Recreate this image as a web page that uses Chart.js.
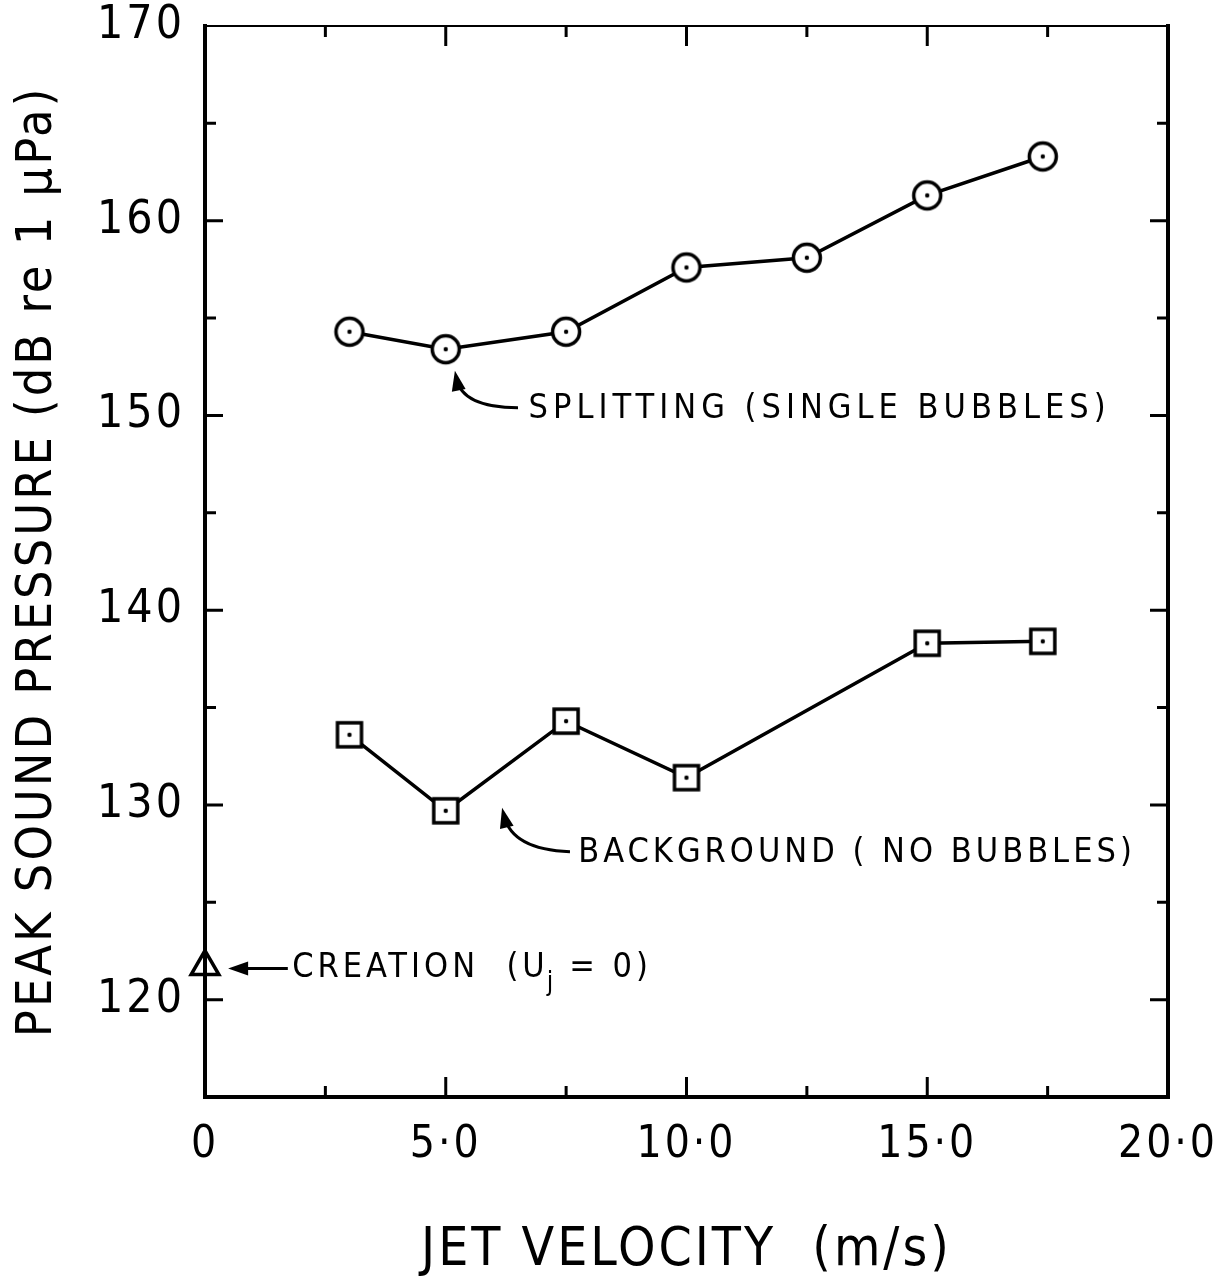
<!DOCTYPE html>
<html>
<head>
<meta charset="utf-8">
<script src="https://cdn.jsdelivr.net/npm/chart.js@4.4.0/dist/chart.umd.min.js"></script>
<style>
  html, body { margin: 0; padding: 0; background: #fff; }
  #wrap { width: 1231px; height: 1286px; }
</style>
</head>
<body>
<div id="wrap"><canvas id="chart"></canvas></div>
<script>
// values
const splitX = [3.0, 5.0, 7.5, 10.0, 12.5, 15.0, 17.4];
const splitY = [154.3, 153.4, 154.3, 157.6, 158.1, 161.3, 163.3];
const backX = [3.0, 5.0, 7.5, 10.0, 15.0, 17.4];
const backY = [133.6, 129.7, 134.3, 131.4, 138.3, 138.4];
const creationX = [0];
const creationY = [121.7];

const xTicks = [0, 5, 10, 15, 20];
const xMinor = [2.5, 7.5, 12.5, 17.5];
const yTicks = [120, 130, 140, 150, 160, 170];
const yMinor = [125, 135, 145, 155, 165];

const FONT = "'DejaVu Sans Condensed', 'DejaVu Sans', sans-serif";

// annotation anchors, in data units
const notes = [
  { text: 'SPLITTING (SINGLE BUBBLES)', x: 6.72, y: 150.3, spacing: 5 },
  { text: 'BACKGROUND ( NO BUBBLES)', x: 7.75, y: 127.5, spacing: 4 },
];
const arrows = [
  { from: [6.50, 150.4], ctrl: [5.34, 150.4], to: [5.19, 152.3] },
  { from: [7.58, 127.6], ctrl: [6.38, 127.7], to: [6.17, 129.85] },
  { from: [1.72, 121.6], ctrl: [1.1, 121.6], to: [0.48, 121.6] },
];

function marker(kind) {
  const c = document.createElement('canvas');
  c.width = 36; c.height = 36;
  const g = c.getContext('2d');
  g.lineWidth = 3.5;
  g.strokeStyle = '#000';
  g.fillStyle = '#fff';
  if (kind === 'circle') {
    g.beginPath();
    g.arc(18, 18, 13.5, 0, Math.PI * 2);
    g.fill();
    g.stroke();
  } else {
    g.fillRect(6, 6, 24, 24);
    g.strokeRect(6, 6, 24, 24);
  }
  g.fillStyle = '#000';
  g.beginPath();
  g.arc(18, 18, 2.2, 0, Math.PI * 2);
  g.fill();
  return c;
}

const toPts = (xs, ys) => xs.map((x, i) => ({ x: x, y: ys[i] }));

const frame = {
  id: 'frame',
  beforeDraw(chart) {
    chart.ctx.letterSpacing = '3px';
  },
  afterDatasetsDraw(chart) {
    const { ctx, chartArea: a, scales: { x, y } } = chart;
    ctx.save();
    ctx.strokeStyle = '#000';
    ctx.lineCap = 'square';
    ctx.lineWidth = 4;
    ctx.beginPath();
    ctx.moveTo(a.left, a.top);
    ctx.lineTo(a.left, a.bottom);
    ctx.lineTo(a.right, a.bottom);
    ctx.lineTo(a.right, a.top);
    ctx.stroke();
    ctx.lineWidth = 2;
    ctx.beginPath();
    ctx.moveTo(a.left, a.top);
    ctx.lineTo(a.right, a.top);
    ctx.stroke();

    ctx.lineWidth = 3;
    ctx.lineCap = 'butt';
    const tx = (v, len) => {
      const p = x.getPixelForValue(v);
      ctx.moveTo(p, a.bottom); ctx.lineTo(p, a.bottom - len);
      ctx.moveTo(p, a.top); ctx.lineTo(p, a.top + len);
    };
    const ty = (v, len) => {
      const p = y.getPixelForValue(v);
      ctx.moveTo(a.left, p); ctx.lineTo(a.left + len, p);
      ctx.moveTo(a.right, p); ctx.lineTo(a.right - len, p);
    };
    ctx.beginPath();
    xTicks.slice(1, -1).forEach(v => tx(v, 20));
    xMinor.forEach(v => tx(v, 11));
    yTicks.slice(0, -1).forEach(v => ty(v, 18));
    yMinor.forEach(v => ty(v, 11));
    ctx.stroke();
    ctx.restore();
  },
  afterDraw(chart) {
    const { ctx, scales: { x, y } } = chart;
    const px = p => [x.getPixelForValue(p[0]), y.getPixelForValue(p[1])];
    ctx.save();
    ctx.fillStyle = '#000';
    ctx.strokeStyle = '#000';
    ctx.font = '34px ' + FONT;
    ctx.textBaseline = 'middle';
    ctx.textAlign = 'left';
    notes.forEach(n => {
      ctx.letterSpacing = n.spacing + 'px';
      ctx.fillText(n.text, x.getPixelForValue(n.x), y.getPixelForValue(n.y));
    });

    // CREATION (Uj = 0) with subscript j
    ctx.letterSpacing = '4px';
    let cx = x.getPixelForValue(1.81);
    const cy = y.getPixelForValue(121.6);
    const part = s => { ctx.fillText(s, cx, cy); cx += ctx.measureText(s).width; };
    part('CREATION  (U');
    ctx.font = '26px ' + FONT;
    ctx.fillText('j', cx - 2, cy + 15);
    cx += ctx.measureText('j').width + 10;
    ctx.font = '34px ' + FONT;
    part('= 0)');

    ctx.lineWidth = 3;
    arrows.forEach(ar => {
      const f = px(ar.from), c = px(ar.ctrl), t = px(ar.to);
      const ang = Math.atan2(t[1] - c[1], t[0] - c[0]);
      const L = 20, W = 7;
      ctx.beginPath();
      ctx.moveTo(f[0], f[1]);
      ctx.quadraticCurveTo(c[0], c[1], t[0] - Math.cos(ang) * 8, t[1] - Math.sin(ang) * 8);
      ctx.stroke();
      ctx.beginPath();
      ctx.moveTo(t[0], t[1]);
      ctx.lineTo(t[0] - Math.cos(ang) * L - Math.sin(ang) * W, t[1] - Math.sin(ang) * L + Math.cos(ang) * W);
      ctx.lineTo(t[0] - Math.cos(ang) * L + Math.sin(ang) * W, t[1] - Math.sin(ang) * L - Math.cos(ang) * W);
      ctx.closePath();
      ctx.fill();
    });
    ctx.restore();
  }
};

const ctx = document.getElementById('chart').getContext('2d');
new Chart(ctx, {
  type: 'scatter',
  data: {
    datasets: [{
        label: 'Splitting (single bubbles)',
        data: toPts(splitX, splitY),
        showLine: true,
        borderColor: '#000',
        borderWidth: 3.5,
        pointStyle: marker('circle'),
        pointRadius: 14,
      }, {
        label: 'Background (no bubbles)',
        data: toPts(backX, backY),
        showLine: true,
        borderColor: '#000',
        borderWidth: 3.5,
        pointStyle: marker('square'),
        pointRadius: 14,
      }, {
        label: 'Creation (Uj = 0)',
        data: toPts(creationX, creationY),
        showLine: false,
        clip: false,
        pointStyle: 'triangle',
        pointRadius: 16,
        borderColor: '#000',
        backgroundColor: 'rgba(0,0,0,0)',
        borderWidth: 3.5,
      }
    ]
  },
  options: {
    responsive: true,
    maintainAspectRatio: false,
    animation: false,
    layout: { padding: { left: 0, top: 26, right: 63, bottom: 0 } },
    plugins: {
      legend: { display: false },
      tooltip: { enabled: false },
    },
    scales: {
      x: {
        type: 'linear',
        min: 0,
        max: 20,
        grid: { display: false, drawTicks: false },
        border: { display: false },
        afterBuildTicks: s => { s.ticks = xTicks.map(v => ({ value: v })); },
        afterFit: s => {
          s.height = 189;
          s.paddingLeft = 0; s.paddingRight = 0;
        },
        ticks: {
          color: '#000',
          padding: 22,
          maxRotation: 0,
          font: { family: FONT, size: 44 },
          callback: v => v === 0 ? '0' : v.toFixed(1).replace('.', '·'),
        },
        title: {
          display: true,
          text: 'JET VELOCITY  (m/s)',
          color: '#000',
          font: { family: FONT, size: 53, lineHeight: 1.2 },
          padding: { top: 0, bottom: 3 },
        }
      },
      y: {
        type: 'linear',
        min: 115,
        max: 170,
        grid: { display: false, drawTicks: false },
        border: { display: false },
        afterBuildTicks: s => { s.ticks = yTicks.map(v => ({ value: v })); },
        afterFit: s => {
          s.width = 205;
          s.paddingTop = 0; s.paddingBottom = 0;
        },
        ticks: {
          color: '#000',
          padding: 20,
          font: { family: FONT, size: 46 },
        },
        title: {
          display: true,
          text: 'PEAK SOUND PRESSURE (dB re 1 μPa)',
          color: '#000',
          font: { family: FONT, size: 50, lineHeight: 1.2 },
          padding: { top: 8, bottom: 0 },
        }
      }
    }
  },
  plugins: [frame]
});
</script>
</body>
</html>
